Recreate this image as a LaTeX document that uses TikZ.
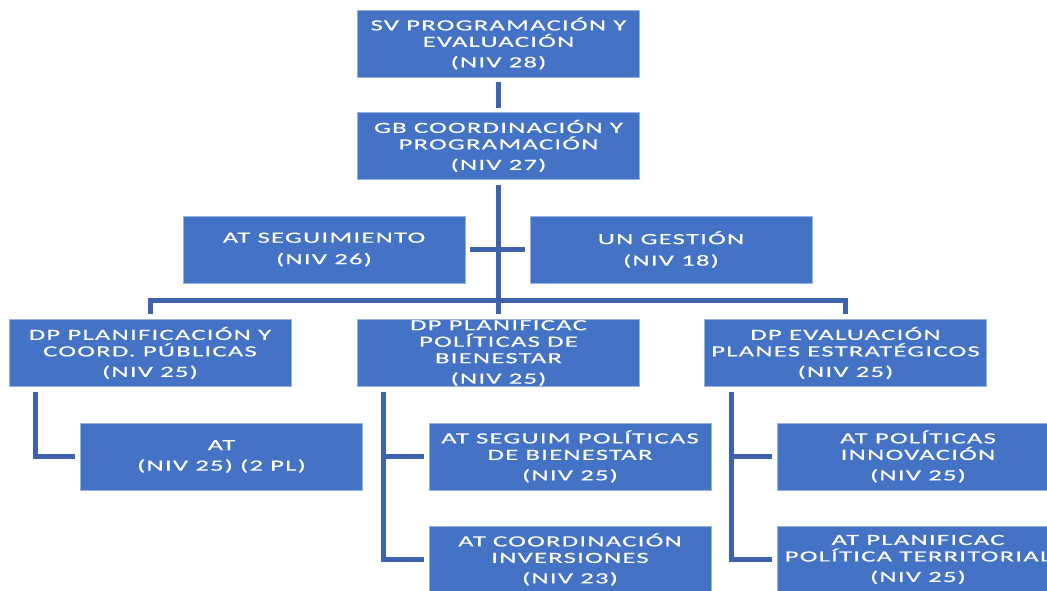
\documentclass[tikz,border=0pt]{standalone}
\usepackage{fontspec}
\setmainfont{Carlito}[FakeStretch=1.72,LetterSpace=8,FakeBold=0.4]
\usetikzlibrary{calc}
\definecolor{boxblue}{RGB}{68,114,196}
\definecolor{lineblue}{RGB}{62,98,172}
\definecolor{edgeblue}{RGB}{150,178,224}
\begin{document}
\begin{tikzpicture}[x=1pt,y=-1pt,
  orgbox/.style={fill=boxblue, draw=edgeblue, line width=0.6pt, minimum width=282pt, minimum height=67pt, inner sep=0pt, text=white, align=center, font=\fontsize{15.5}{16.5}\selectfont},
  conn/.style={draw=lineblue, line width=5pt, line join=miter}]
\useasboundingbox (0,0) rectangle (1047,591);
\clip (0,0) rectangle (1047,591);
% boxes
\node[orgbox] (sv)  at (498.5,43.5) {SV PROGRAMACIÓN Y\\EVALUACIÓN\\[4pt](NIV 28)};
\node[orgbox] (gb)  at (498.5,146) {GB COORDINACIÓN Y\\PROGRAMACIÓN\\[4pt](NIV 27)};
\node[orgbox] (ats) at (324,249.5) {AT SEGUIMIENTO\\[5pt](NIV 26)};
\node[orgbox] (un)  at (671,249.5) {UN GESTIÓN\\[5pt](NIV 18)};
\node[orgbox] (dp1) at (150,353) {DP PLANIFICACIÓN Y\\COORD. PÚBLICAS\\[4pt](NIV 25)};
\node[orgbox] (dp2) at (498.5,353) {DP PLANIFICAC\\POLÍTICAS DE\\BIENESTAR\\[4pt](NIV 25)};
\node[orgbox] (dp3) at (845.5,353) {DP EVALUACIÓN\\PLANES ESTRATÉGICOS\\[4pt](NIV 25)};
\node[orgbox] (at1) at (221.5,456.5) {AT\\[4pt](NIV 25) (2 PL)};
\node[orgbox] (at2) at (570,456.5) {AT SEGUIM POLÍTICAS\\DE BIENESTAR\\[4pt](NIV 25)};
\node[orgbox] (at3) at (570,559.5) {AT COORDINACIÓN\\INVERSIONES\\[4pt](NIV 23)};
\node[orgbox] (at4) at (918,456.5) {AT POLÍTICAS\\INNOVACIÓN\\[4pt](NIV 25)};
\node[orgbox] (at5) at (918,559.5) {AT PLANIFICAC\\POLÍTICA TERRITORIAL\\[4pt](NIV 25)};
% connectors
\coordinate (busc) at (498.5,300);
\draw[conn, shorten <=5pt, shorten >=4pt] (sv) -- (gb);
\draw[conn, shorten <=5pt, shorten >=5pt] (gb) -- (dp2);
\draw[conn] ($(dp1.north)+(0,-5)$) |- (busc) -| ($(dp3.north)+(0,-5)$);
\draw[conn, shorten <=5pt, shorten >=5pt] (ats.east) -- (un.west);
\coordinate (t1) at (35,392);
\coordinate (t2) at (383,392);
\coordinate (t3) at (731,392);
\draw[conn] (t1) |- ([xshift=-5pt]at1.west);
\draw[conn] (t2) |- ([xshift=-5pt]at3.west);
\draw[conn] (t2 |- at2.west) -- ([xshift=-5pt]at2.west);
\draw[conn] (t3) |- ([xshift=-5pt]at5.west);
\draw[conn] (t3 |- at4.west) -- ([xshift=-5pt]at4.west);
\end{tikzpicture}
\end{document}
